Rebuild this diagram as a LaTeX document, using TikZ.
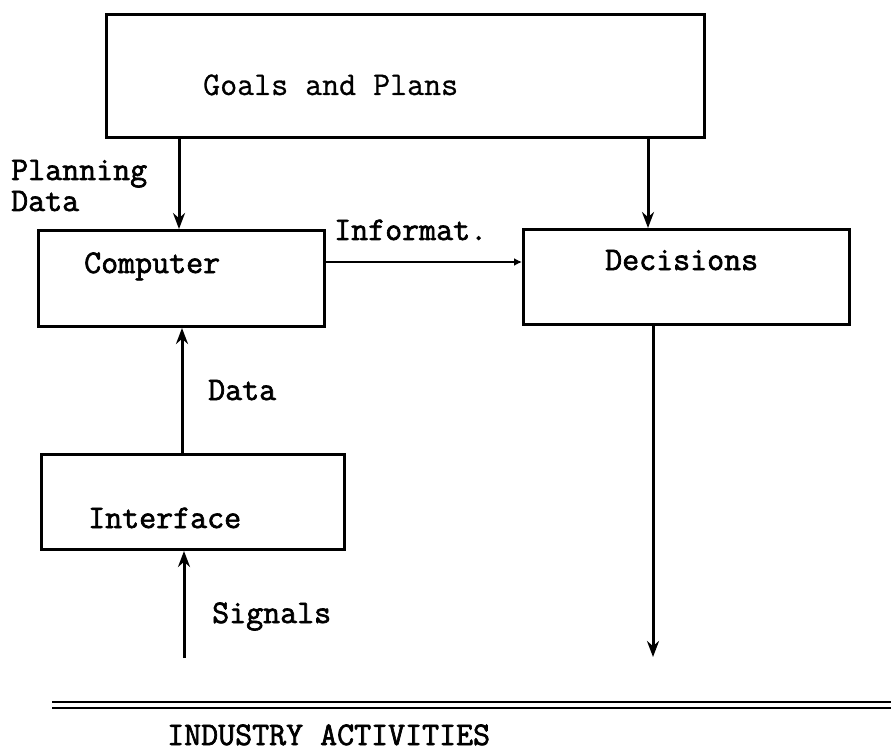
\documentclass[tikz,border=0pt]{standalone}
\usepackage{fontspec}
\newfontfamily\heavytt{Latin Modern Mono}[FakeBold=2]
\newfontfamily\midtt{Latin Modern Mono}[FakeBold=0.8]
\usetikzlibrary{arrows.meta}
\begin{document}
\begin{tikzpicture}[x=1pt,y=-1pt,
  box/.style={draw, line width=3pt, inner sep=0pt, anchor=north west},
  lbl/.style={anchor=base west, inner sep=0pt, font=\midtt\fontsize{33}{34}\selectfont},
  lblb/.style={anchor=base west, inner sep=0pt, font=\heavytt\fontsize{33}{34}\selectfont},
  arr/.style={-{Stealth[length=16pt,width=12pt]}, line width=3pt},
  arrsmall/.style={-{Latex[length=8pt,width=8pt]}, line width=2.6pt},
  rule/.style={line width=2.8pt}]
\useasboundingbox (0,0) rectangle (891,751);
% boxes
\node[box, minimum width=598pt, minimum height=123pt] (goals) at (105,13) {};
\node[box, minimum width=286pt, minimum height=96pt] (comp) at (37,229) {};
\node[box, minimum width=326pt, minimum height=95pt] (dec) at (522,228) {};
\node[box, minimum width=303pt, minimum height=95pt] (inter) at (40,453) {};
% texts
\node[lbl] (tgoals) at (203,95) {Goals and Plans};
\node[lblb] (tcomp) at (84,273) {Computer};
\node[lblb] (tdec) at (605,270) {Decisions};
\node[lblb] (tinter) at (88,528) {Interface};
\node[lblb] (tplan) at (11,180) {Planning};
\node[lblb] (tpdata) at (11,211) {Data};
\node[lblb] (tinfo) at (334,240) {Informat.};
\node[lblb] (tdata) at (208,400) {Data};
\node[lblb] (tsig) at (212,623) {Signals};
\node[lblb] (tind) at (167,745) {INDUSTRY ACTIVITIES};
% helper coordinates
\coordinate (xa) at (179,0);
\coordinate (xb) at (648,0);
\coordinate (yi) at (0,262);
\coordinate (xc) at (182,0);
\coordinate (sigstart) at (184,658);
\coordinate (decend) at (653,657);
\coordinate (r1a) at (52,702);
\coordinate (r1b) at (891,702);
\coordinate (r2a) at (52,708);
\coordinate (r2b) at (891,708);
% connectors
\draw[arr] (goals.south -| xa) -- (comp.north -| xa);
\draw[arr] (goals.south -| xb) -- (dec.north -| xb);
\draw[arrsmall] (comp.east |- yi) -- (dec.west |- yi);
\draw[arr] (inter.north -| xc) -- (comp.south -| xc);
\draw[arr] (sigstart) -- (inter.south -| sigstart);
\draw[arr] (dec.south -| decend) -- (decend);
% double rule
\draw[rule] (r1a) -- (r1b);
\draw[rule] (r2a) -- (r2b);
\end{tikzpicture}
\end{document}
